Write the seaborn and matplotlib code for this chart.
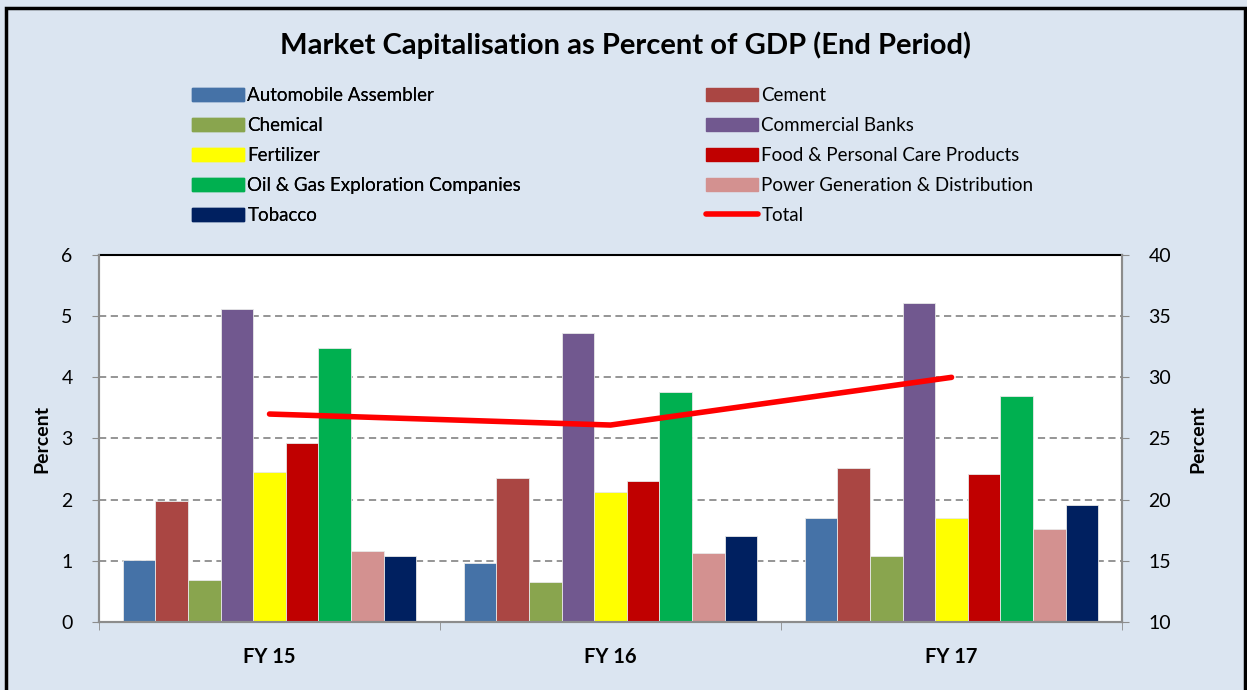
import numpy as np
import pandas as pd
import matplotlib.pyplot as plt
import seaborn as sns
from matplotlib.patches import Rectangle

years = ["FY 15", "FY 16", "FY 17"]
sectors = [
    "Automobile Assembler",
    "Cement",
    "Chemical",
    "Commercial Banks",
    "Fertilizer",
    "Food & Personal Care Products",
    "Oil & Gas Exploration Companies",
    "Power Generation & Distribution",
    "Tobacco",
]
auto = [1.01, 0.96, 1.70]
cement = [1.97, 2.36, 2.51]
chemical = [0.69, 0.66, 1.08]
banks = [5.11, 4.72, 5.21]
fertilizer = [2.46, 2.12, 1.70]
food = [2.93, 2.30, 2.42]
oil_gas = [4.48, 3.76, 3.70]
power = [1.16, 1.13, 1.52]
tobacco = [1.08, 1.40, 1.91]
total = [27.0, 26.1, 30.0]

colors = ["#4572A7", "#AA4643", "#89A54E", "#71588F", "#FFFF00",
          "#C00000", "#00B050", "#D39190", "#002060"]

series = [auto, cement, chemical, banks, fertilizer, food, oil_gas, power, tobacco]
rows = []
for name, vals in zip(sectors, series):
    for yr, v in zip(years, vals):
        rows.append({"year": yr, "sector": name, "value": v})
df = pd.DataFrame(rows)

sns.set_style("white")
plt.rcParams["font.family"] = ["Lato", "DejaVu Sans"]
plt.rcParams.update({"text.color": "black", "axes.labelcolor": "black",
                     "xtick.color": "black", "ytick.color": "black"})
bg = "#DBE5F1"

fig = plt.figure(figsize=(12.47, 6.9), dpi=100, facecolor=bg)
ax = fig.add_axes([0.0794, 0.0986, 0.8204, 0.5318])
ax.set_facecolor("white")

sns.barplot(data=df, x="year", y="value", hue="sector", hue_order=sectors,
            palette=colors, width=0.86, edgecolor="#E8E8E8", linewidth=0.6,
            saturation=1, ax=ax, legend=False)
ax.set_ylim(0, 6)
ax.set_xlim(-0.5, 2.5)
ax.set_yticks(range(0, 7))
ax.yaxis.grid(True, color="#8C8C8C", linestyle=(0, (4, 2.5)), linewidth=1.3)
ax.set_axisbelow(True)
ax.set_xlabel("")
ax.set_ylabel("Percent", fontsize=14, fontweight="bold", labelpad=8)
ax.tick_params(axis="y", labelsize=14, length=5, color="#8C8C8C", labelcolor="black",
               direction="out", pad=14, left=True)
ax.tick_params(axis="x", labelsize=14.5, length=0, pad=18, labelcolor="black")
for lbl in ax.get_xticklabels():
    lbl.set_fontweight("bold")
ax.set_xticks([-0.5, 0.5, 1.5, 2.5], minor=True)
ax.tick_params(axis="x", which="minor", length=6, color="#8C8C8C", bottom=True)
for s in ["left", "bottom", "right"]:
    ax.spines[s].set_color("#8C8C8C")
    ax.spines[s].set_linewidth(1.5)
ax.spines["top"].set_color("black")
ax.spines["top"].set_linewidth(1.5)

ax2 = ax.twinx()
sns.lineplot(x=years, y=total, ax=ax2, color="#FF0000", linewidth=4,
             solid_capstyle="round", label="Total", legend=False)
ax2.set_ylim(10, 40)
ax2.set_yticks(range(10, 41, 5))
ax2.set_ylabel("Percent", fontsize=14, fontweight="bold", labelpad=13)
ax2.tick_params(axis="y", labelsize=14, length=5, color="#8C8C8C", labelcolor="black",
                direction="out", pad=14, right=True)
for s in ["left", "bottom", "right"]:
    ax2.spines[s].set_color("#8C8C8C")
    ax2.spines[s].set_linewidth(1.5)
ax2.spines["top"].set_visible(False)

# legend: two columns placed separately
bar_handles = [Rectangle((0, 0), 1, 1, color=c) for c in colors]
line_handle = ax2.get_lines()[0]
leg_kw = dict(loc="upper left", frameon=False, fontsize=13.5, handlelength=2.75,
              handleheight=0.7, handletextpad=0.2, labelspacing=0.69,
              borderpad=0, borderaxespad=0)
leg1 = fig.legend(bar_handles[0::2], sectors[0::2],
                  bbox_to_anchor=(192 / 1247, 1 - 87 / 690), **leg_kw)
fig.add_artist(leg1)
fig.legend(bar_handles[1::2] + [line_handle], sectors[1::2] + ["Total"],
           bbox_to_anchor=(706 / 1247, 1 - 87 / 690), **leg_kw)

fig.text(0.502, 1 - 45 / 690, "Market Capitalisation as Percent of GDP (End Period)",
         ha="center", va="center", fontsize=21, fontweight="bold")

fig.patches.append(Rectangle((0.005, -0.01), 0.993, 0.998, transform=fig.transFigure,
                             fill=False, edgecolor="black", linewidth=2.5))

fig.savefig("out.png", dpi=100, facecolor=bg)
